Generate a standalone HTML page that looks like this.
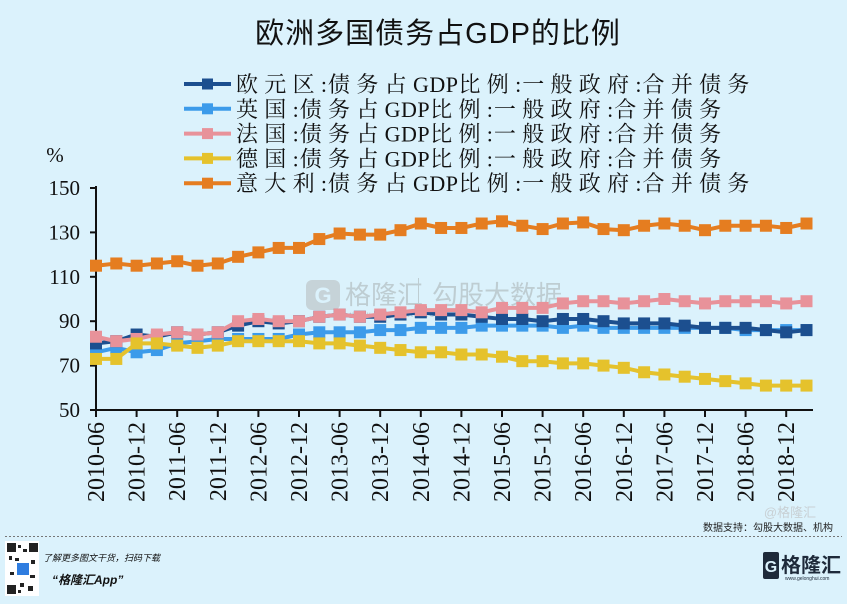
<!DOCTYPE html>
<html><head><meta charset="utf-8"><style>
html,body{margin:0;padding:0;background:#dbf2fc;}
svg{display:block}
</style></head><body>
<svg id="s" width="847" height="604" xmlns="http://www.w3.org/2000/svg">
<rect width="847" height="604" fill="#dbf2fc"/>
<text x="438" y="43" text-anchor="middle" font-family="'Liberation Sans','Noto Sans CJK SC',sans-serif" font-size="29" letter-spacing="1" fill="#111">欧洲多国债务占GDP的比例</text>
<g id="wm" font-family="'Liberation Sans','Noto Sans CJK SC',sans-serif" fill="#b8c4c8" opacity="0.8">
<rect x="306" y="280" width="34" height="30" rx="6" fill="#c2ccd0"/>
<text x="323" y="303" font-size="22" text-anchor="middle" fill="#dbf2fc" font-weight="bold">G</text>
<text x="345" y="304" font-size="26">格隆汇</text>
<rect x="418" y="278" width="1" height="34" fill="#b8c4c8"/>
<text x="432" y="304" font-size="26">勾股大数据</text>
<text x="350" y="317" font-size="8" letter-spacing="1.5">www.gogudata.com</text>
</g>
<g id="axes" stroke="#111" stroke-width="2" fill="none"></g>
<g id="lbl" font-family="'Liberation Serif',serif" font-size="21" fill="#111"></g>
<g id="series"></g>
<g id="legend"></g>
<text x="55" y="162" font-family="'Liberation Serif',serif" font-size="21" fill="#111" text-anchor="middle">%</text>
<text x="790" y="517" font-family="'Liberation Sans','Noto Sans CJK SC',sans-serif" font-size="13" fill="#c8d0d4" text-anchor="middle">@格隆汇</text>
<text x="833" y="531" font-family="'Liberation Sans','Noto Sans CJK SC',sans-serif" font-size="10" fill="#222" text-anchor="end">数据支持：勾股大数据、机构</text>
<line x1="5" y1="536.5" x2="842" y2="536.5" stroke="#777" stroke-width="1" stroke-dasharray="2,2"/>
<rect x="5" y="541" width="34" height="55" fill="#fff"/>
<g fill="#222">
<rect x="7" y="543" width="9" height="9"/><rect x="29" y="543" width="9" height="9"/><rect x="7" y="585" width="9" height="9"/>
<rect x="18" y="545" width="3" height="3"/><rect x="23" y="549" width="4" height="3"/><rect x="9" y="556" width="3" height="4"/><rect x="15" y="558" width="4" height="3"/><rect x="31" y="560" width="4" height="4"/><rect x="10" y="572" width="4" height="3"/><rect x="30" y="575" width="5" height="3"/><rect x="20" y="583" width="4" height="4"/><rect x="28" y="586" width="5" height="5"/><rect x="18" y="590" width="3" height="3"/>
</g>
<rect x="17" y="563" width="12" height="12" fill="#2f7de0"/>
<text x="43" y="561" font-family="'Liberation Sans','Noto Sans CJK SC',sans-serif" font-size="9" font-style="italic" fill="#111">了解更多图文干货，扫码下载</text>
<text x="52" y="584" font-family="'Liberation Sans','Noto Sans CJK SC',sans-serif" font-size="12" font-weight="bold" font-style="italic" fill="#111">“格隆汇App”</text>
<rect x="763" y="552" width="16" height="27" rx="2" fill="#1e2a3a"/>
<text x="771" y="572" font-family="'Liberation Sans',sans-serif" font-size="16" font-weight="bold" fill="#dbf2fc" text-anchor="middle">G</text>
<text x="781" y="572" font-family="'Liberation Sans','Noto Sans CJK SC',sans-serif" font-size="20" font-weight="bold" fill="#1e2a3a">格隆汇</text>
<text x="785" y="580" font-family="'Liberation Sans',sans-serif" font-size="5" fill="#1e2a3a">www.gelonghui.com</text>
</svg>
<script>
var NS="http://www.w3.org/2000/svg";
function el(p,t,a,txt){var e=document.createElementNS(NS,t);for(var k in a)e.setAttribute(k,a[k]);if(txt!=null)e.textContent=txt;p.appendChild(e);return e;}
var X0=96,DX=20.3,Y=function(v){return 410-(v-50)*2.22;};
var ax=document.getElementById('axes'),lb=document.getElementById('lbl');
el(ax,'line',{x1:96,y1:186,x2:96,y2:411});
el(ax,'line',{x1:95,y1:410,x2:813,y2:410});
[150,130,110,90,70,50].forEach(function(v){var y=Y(v);el(ax,'line',{x1:90,y1:y,x2:96,y2:y});el(lb,'text',{x:80,y:y+7,'text-anchor':'end'},v);});
var labs=[];for(var yr=2010;yr<=2018;yr++){labs.push(yr+'-06');labs.push(yr+'-12');}
labs.forEach(function(s,i){var x=X0+i*2*DX;el(ax,'line',{x1:x,y1:410,x2:x,y2:417});
el(lb,'text',{x:0,y:0,'font-size':24,'text-anchor':'end',transform:'translate('+(x+8)+',422) rotate(-90)'},s);});
var D={
it:[115,116,115,116,117,115,116,119,121,123,123,127,129.5,129,129,131,134,132,132,134,135,133,131.5,134,134.5,131.5,131,133,134,133,131,133,133,133,132,134],
eu:[80,81,84,83,85,84,85,88,90,89,90,92,93,92,92,93,94,93,93,92,91,91,90,91,91,90,89,89,89,88,87,87,87,86,85,86],
uk:[76,78,76,77,80,81,82,82,82,82,84,85,85,85,86,86,87,87,87,88,88,88,88,87,88,87,87,87,87,87,87,87,86,86,86,86],
fr:[83,81,82,84,85,84,85,90,91,90,90,92,93,92,93,94,95,95,95,94,96,96,96,98,99,99,98,99,100,99,98,99,99,99,98,99],
de:[73,73,80,80,79,78,79,81,81,81,81,80,80,79,78,77,76,76,75,75,74,72,72,71,71,70,69,67,66,65,64,63,62,61,61,61]};
var C={eu:'#1c4f8f',uk:'#3c9bea',fr:'#e8929a',de:'#e5c22c',it:'#e57d20'};
var sg=document.getElementById('series');
['uk','eu','fr','de','it'].forEach(function(k){var pts=D[k].map(function(v,i){return (X0+i*DX).toFixed(1)+','+Y(v).toFixed(1);});
el(sg,'polyline',{points:pts.join(' '),fill:'none',stroke:C[k],'stroke-width':4});
D[k].forEach(function(v,i){el(sg,'rect',{x:X0+i*DX-6,y:Y(v)-6,width:12,height:12,fill:C[k]});});});
var lg=document.getElementById('legend');
var names=[['eu','欧元区'],['uk','英国'],['fr','法国'],['de','德国'],['it','意大利']];
names.forEach(function(n,i){var y=84+i*24.8;el(lg,'line',{x1:184,y1:y,x2:231,y2:y,stroke:C[n[0]],'stroke-width':4});
el(lg,'rect',{x:202,y:y-5.5,width:11,height:11,fill:C[n[0]]});
var t=el(lg,'text',{x:236,y:y+8,'font-family':"'Liberation Serif','Noto Serif CJK SC',serif",'font-size':22,fill:'#111'});
var parts=[[n[1],6.3],[':',1],['债务占',6.3],['GDP',0.5],['比例',6.3],[':',1],['一般政府',6.3],[':',1],['合并债务',6.3]];
parts.forEach(function(p){el(t,'tspan',{'letter-spacing':p[1]},p[0]);});});
</script>
</body></html>
